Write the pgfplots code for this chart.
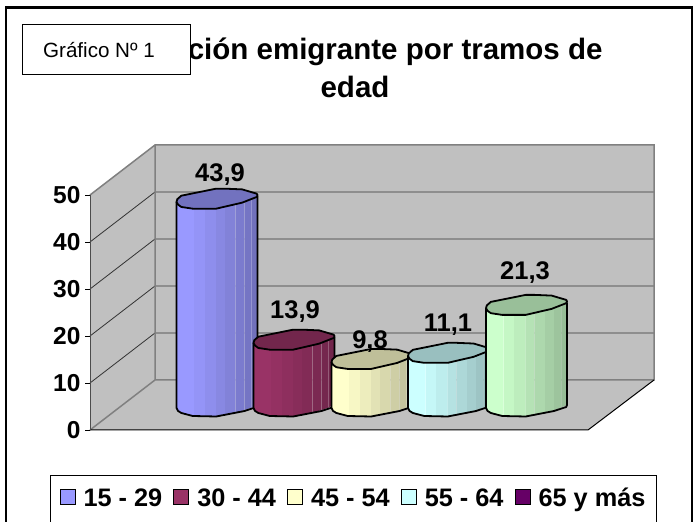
\documentclass[border=0pt]{standalone}
\usepackage{fontspec}
\setmainfont{Liberation Sans}
\usepackage{pgfplots}
\pgfplotsset{compat=1.18}
\newcommand\fsz[1]{\fontsize{#1}{#1}\selectfont}
% helpers -----------------------------------------------------
\def\cw{81}
\def\planeoff{5.32}
\newcommand\ptt[3]{% f, dy(px), ybase
  \pgfmathsetmacro\xx{\cxl+#1*\cw}\pgfmathsetmacro\yy{#3+(#2)/4.7}%
  \xdef\acc{\acc (\xx,\yy)}}
\newcommand\emitfill[3]{% fillspec, drawspec, opts
  \edef\tmp{\noexpand\addplot[fill={#1},draw=#2,#3,forget plot] coordinates {\acc} --cycle;}\tmp}
\newcommand\facet[5]{% f1 f2 dy1 dy2 mult
  \pgfmathtruncatemacro\vr{\colr*#5}\pgfmathtruncatemacro\vg{\colg*#5}\pgfmathtruncatemacro\vb{\colb*#5}%
  \gdef\acc{}%
  \ptt{#1}{#3-2}{\planeoff}\ptt{#2}{#4-2}{\planeoff}\ptt{#2}{#4}{\ctop}\ptt{#1}{#3}{\ctop}%
  \edef\col{rgb,255:red,\vr;green,\vg;blue,\vb}%
  \emitfill{\col}{none}{line width=0pt}
  % thin light seam at the right of the facet
  \gdef\acc{}%
  \ptt{#2}{#4-2}{\planeoff}\ptt{#2}{#4}{\ctop}%
  \edef\tmp{\noexpand\addplot[white,opacity=.28,line width=.7pt,forget plot] coordinates {\acc};}\tmp}
\newcommand\cyl[5]{% left x, value, r g b
  \def\cxl{#1}\def\colr{#3}\def\colg{#4}\def\colb{#5}%
  \pgfmathsetmacro\ctop{#2+\planeoff}%
  \facet{0}{.22}{-3.3}{-10}{1.00}%
  \facet{.22}{.35}{-10}{-10}{.97}%
  \facet{.35}{.49}{-10}{-10}{.93}%
  \facet{.49}{.60}{-10}{-8}{.89}%
  \facet{.60}{.73}{-8}{-5.5}{.85}%
  \facet{.73}{.84}{-5.5}{-3}{.81}%
  \facet{.84}{.93}{-3}{-.5}{.77}%
  \facet{.93}{1}{-.5}{2.5}{.74}%
  % outline of sides and bottom
  \gdef\acc{}%
  \ptt{0}{-3.3}{\ctop}\ptt{0}{-3}{\planeoff}\ptt{.02}{-6}{\planeoff}\ptt{.06}{-8}{\planeoff}\ptt{.2}{-11}{\planeoff}\ptt{.49}{-11.5}{\planeoff}\ptt{.84}{-6}{\planeoff}\ptt{.99}{-2}{\planeoff}\ptt{1}{0}{\planeoff}\ptt{1}{2.5}{\ctop}%
  \edef\tmp{\noexpand\addplot[black,line width=1.8pt,line join=round,forget plot] coordinates {\acc};}\tmp
  % top face
  \gdef\acc{}%
  \ptt{0}{-3.3}{\ctop}\ptt{.02}{-6}{\ctop}\ptt{.06}{-8.3}{\ctop}\ptt{.2}{-10}{\ctop}\ptt{.49}{-10}{\ctop}\ptt{.81}{-4}{\ctop}\ptt{.99}{1.7}{\ctop}\ptt{1}{3.5}{\ctop}\ptt{.99}{5}{\ctop}\ptt{.81}{9.3}{\ctop}\ptt{.6}{10}{\ctop}\ptt{.49}{10}{\ctop}\ptt{.06}{3}{\ctop}\ptt{.01}{-.5}{\ctop}%
  \pgfmathtruncatemacro\vr{\colr*.75}\pgfmathtruncatemacro\vg{\colg*.75}\pgfmathtruncatemacro\vb{\colb*.75}%
  \edef\col{rgb,255:red,\vr;green,\vg;blue,\vb}%
  \emitfill{\col}{black}{line width=1.8pt,line join=round}}
\begin{document}
\begin{tikzpicture}[x=1pt,y=1pt]
\path[use as bounding box] (0,0) rectangle (697,522);
% frame
\draw[black,line width=2.2pt] (6,-2) -- (6,514.5) -- (692,514.5) -- (692,-2);
\begin{axis}[
  at={(90pt,92pt)},anchor=south west,
  scale only axis,width=564pt,height=285pt,
  xmin=90,xmax=654,ymin=0,ymax=60.64,
  clip=false,
  axis x line=none,
  axis y line*=left,
  y axis line style={draw=none},
  ytick={0,10,20,30,40,50},
  tick align=outside,
  major tick length=5pt,
  ytick style={black,line width=.8pt},
  y tick label style={font=\fsz{24.5}\bfseries,/pgf/number format/assume math mode=true,xshift=-1pt},
  legend columns=5,
  legend style={at={(axis cs:353.5,-14.65)},anchor=center,draw=black,line width=.8pt,
    fill=white,
    font=\fsz{25.3}\bfseries,inner xsep=9pt,inner ysep=13.5pt,
    nodes={text height=.72em,text depth=0pt},
    /tikz/every odd column/.append style={column sep=6pt},
    /tikz/every even column/.append style={column sep=9pt}},
  legend cell align=left,
  legend image code/.code={\draw[#1,draw=black,line width=1pt] (0pt,-2pt) rectangle (15pt,13pt);},
]
% walls
\addplot[fill={rgb,255:red,192;green,192;blue,192},draw=none,forget plot] coordinates {(155,0)(155,10.64)(155,60.64)(654,60.64)(654,10.64)} --cycle;
\addplot[fill={rgb,255:red,192;green,192;blue,192},draw=none,forget plot] coordinates {(90,0)(155,10.64)(155,60.64)(90,50)} --cycle;
\addplot[fill={rgb,255:red,192;green,192;blue,192},draw=none,forget plot] coordinates {(90,0)(588,0)(654,10.64)(155,10.64)} --cycle;
% grid
\addplot[black!80,line width=.8pt,forget plot] coordinates {(90,10)(155,20.64)(654,20.64)};
\addplot[black!80,line width=.8pt,forget plot] coordinates {(90,20)(155,30.64)(654,30.64)};
\addplot[black!80,line width=.8pt,forget plot] coordinates {(90,30)(155,40.64)(654,40.64)};
\addplot[black!80,line width=.8pt,forget plot] coordinates {(90,40)(155,50.64)(654,50.64)};
% wall edges
\addplot[gray,line width=1.5pt,forget plot] coordinates {(90,50)(155,60.64)(654,60.64)(654,10.64)(155,10.64)(155,60.64)};
\addplot[gray,line width=1.5pt,forget plot] coordinates {(90,0)(155,10.64)};
\addplot[black,line width=1pt,forget plot] coordinates {(90,0)(588,0)(654,10.64)};
\addplot[black!70,line width=1pt,forget plot] coordinates {(90,0)(90,50)};
% cylinders
\cyl{176.5}{43.9}{153}{153}{255}
\cyl{253.5}{13.9}{153}{51}{102}
\cyl{331.5}{9.8}{255}{255}{204}
\cyl{408}{11.1}{204}{255}{255}
\cyl{486}{21.3}{204}{255}{204}
% data labels
\addplot[only marks,mark=none,forget plot,point meta=explicit symbolic,
  nodes near coords,nodes near coords style={anchor=center,font=\fsz{25.5}\bfseries,inner sep=0pt}]
  coordinates {(220,54.26)[43,9] (295,25.1)[13,9] (370,18.72)[9,8] (448,22.34)[11,1] (525,33.6)[21,3]};
% legend
\addlegendimage{fill={rgb,255:red,153;green,153;blue,255}}\addlegendentry{15 - 29}
\addlegendimage{fill={rgb,255:red,153;green,51;blue,102}}\addlegendentry{30 - 44}
\addlegendimage{fill={rgb,255:red,255;green,255;blue,204}}\addlegendentry{45 - 54}
\addlegendimage{fill={rgb,255:red,204;green,255;blue,255}}\addlegendentry{55 - 64}
\addlegendimage{fill={rgb,255:red,102;green,0;blue,102}}\addlegendentry{65 y más}
\end{axis}
% title
\node[font=\fsz{29.5}\bfseries,anchor=center] at (355,470) {Población emigrante por tramos de};
\node[font=\fsz{29.5}\bfseries,anchor=center] at (355,435) {edad};
\node[draw=black,line width=1pt,fill=white,minimum width=168pt,minimum height=50pt,anchor=south west,inner sep=0pt] at (22,447) {};
\node[font=\fsz{20.6},anchor=center] at (99,472) {Gráfico Nº 1};
\end{tikzpicture}
\end{document}
